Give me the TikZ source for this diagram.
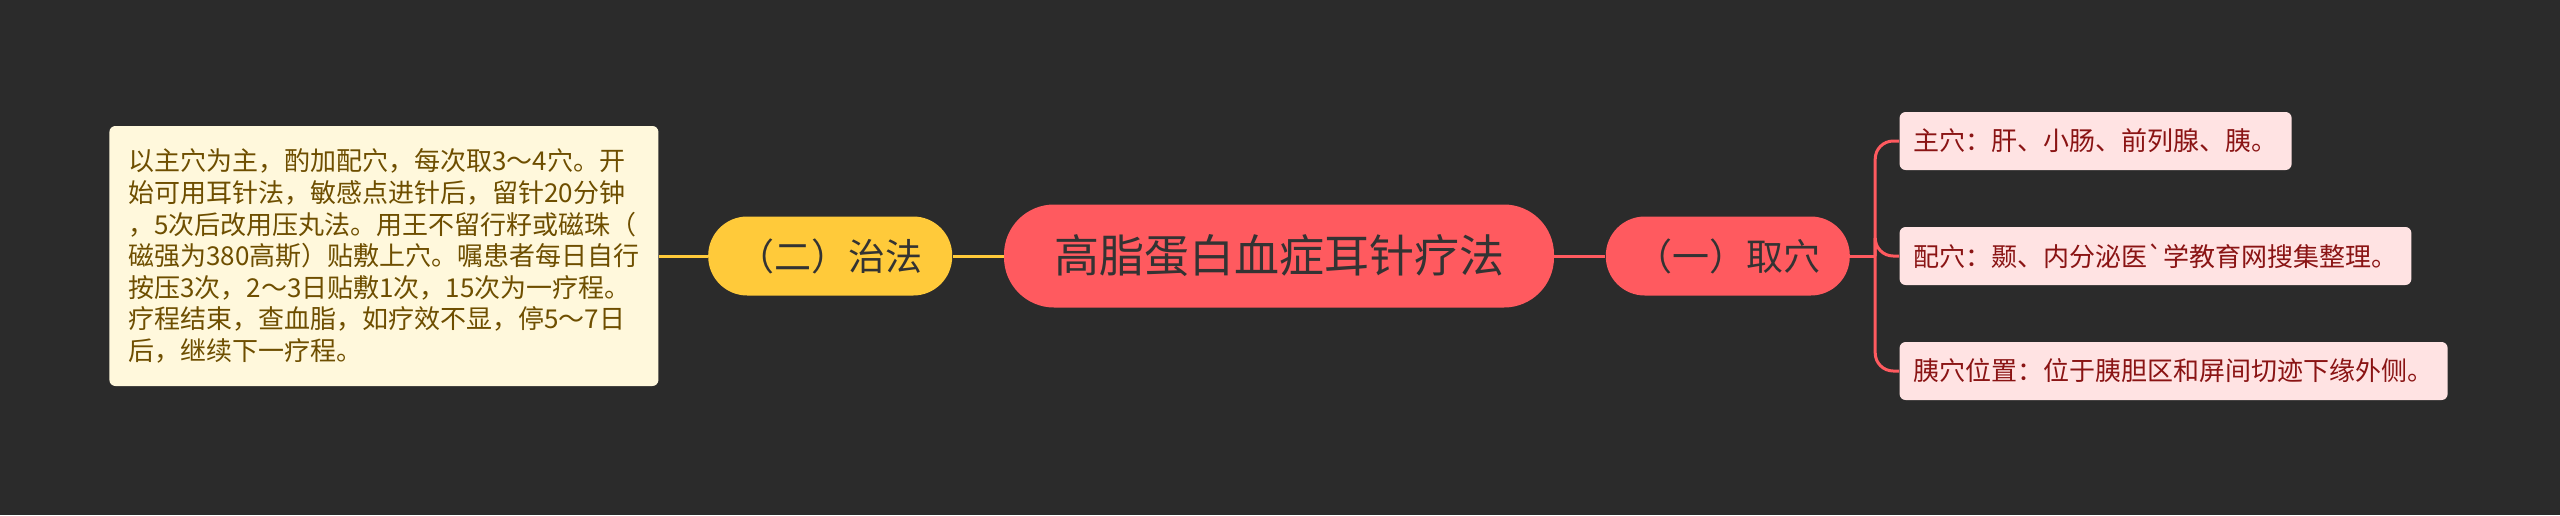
\documentclass[tikz,border=0pt]{standalone}
\usepackage{fontspec}
\setmainfont{Noto Sans CJK SC}[Ligatures=TeXOff]
\usetikzlibrary{%
    positioning
}
\definecolor{bgdark}{HTML}{2B2B2B}
\definecolor{coral}{HTML}{FF5A5F}
\definecolor{amber}{HTML}{FFCA3A}
\definecolor{inkdark}{HTML}{333333}
\definecolor{notefill}{HTML}{FFF8DC}
\definecolor{noteink}{HTML}{6E4E00}
\definecolor{leaffill}{HTML}{FFE3E3}
\definecolor{leafink}{HTML}{8A1414}
\tikzset{
    rootnode/.style = {fill=coral, text=inkdark, rounded corners=25pt,
        minimum width=275pt, minimum height=51.5pt, font=\fontsize{22.5}{27}\selectfont},
    branchnode/.style = {text=inkdark, rounded corners=19.5pt,
        minimum width=122pt, minimum height=39.5pt, font=\fontsize{18.5}{22}\selectfont},
    notebox/.style = {fill=notefill, text=noteink, rounded corners=3pt, align=left,
        minimum width=274.5pt, minimum height=130pt, inner xsep=6.5pt,
        font=\fontsize{13}{15.8}\selectfont},
    leafbox/.style = {fill=leaffill, text=leafink, rounded corners=3pt, anchor=west,
        minimum height=29pt, inner xsep=7pt, font=\fontsize{13}{15.8}\selectfont},
    redlink/.style = {draw=coral, line width=1.5pt},
    yellowlink/.style = {draw=amber, line width=1.5pt}
}

\begin{document}
\begin{tikzpicture}[x=0.5pt,y=-0.5pt]
    \fill[bgdark] (0,0) rectangle (2560,515);
    \node[rootnode] (root) at (1279,256) {高脂蛋白血症耳针疗法};
    \node[branchnode, fill=coral] (quxue) [right=25.5pt of root] {（一）取穴};
    \node[branchnode, fill=amber] (zhifa) [left=25.5pt of root] {（二）治法};
    \node[notebox] (zhifa-1) [left=24.5pt of zhifa] {%
        以主穴为主，酌加配穴，每次取3～4穴。开\\
        始可用耳针法，敏感点进针后，留针20分钟\\
        ，5次后改用压丸法。用王不留行籽或磁珠（\\
        磁强为380高斯）贴敷上穴。嘱患者每日自行\\
        按压3次，2～3日贴敷1次，15次为一疗程。\\
        疗程结束，查血脂，如疗效不显，停5～7日\\
        后，继续下一疗程。};

    \foreach \Name/\Shift/\Text in {%
        quxue-1/57.5pt/主穴：肝、小肠、前列腺、胰。,
        quxue-2/0pt/配穴：颞、内分泌医`学教育网搜集整理。,
        quxue-3/-57.5pt/胰穴位置：位于胰胆区和屏间切迹下缘外侧。}
            \node[leafbox, right=24.5pt of quxue, yshift=\Shift] (\Name) {\Text};

    \coordinate (trunk) at ([xshift=12.5pt]quxue.east);
    \draw[redlink] (root) -- (quxue);
    \draw[redlink] (quxue.east) -- (trunk);
    \draw[yellowlink] (root) -- (zhifa);
    \draw[yellowlink] (zhifa) -- (zhifa-1);
    \foreach \Name in {quxue-1,quxue-2,quxue-3}
        \draw[redlink, rounded corners=9pt] (trunk) |- (\Name.west);
\end{tikzpicture}
\end{document}
